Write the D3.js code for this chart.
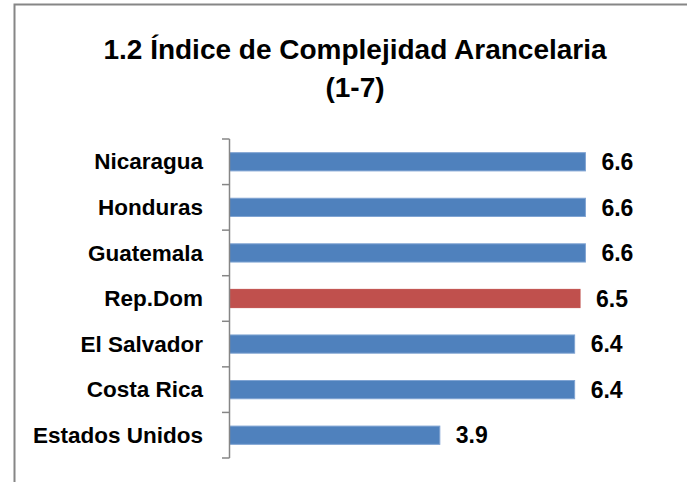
<!DOCTYPE html>
<html><head><meta charset="utf-8">
<script src="https://cdn.jsdelivr.net/npm/d3@7"></script>
<style>body{margin:0;background:#fff}svg{display:block}</style>
</head><body>
<script>
const categories = ["Nicaragua","Honduras","Guatemala","Rep.Dom","El Salvador","Costa Rica","Estados Unidos"];
const values = [6.6, 6.6, 6.6, 6.5, 6.4, 6.4, 3.9];
const highlight = ["Rep.Dom"];
const titleLines = ["1.2 Índice de Complejidad Arancelaria", "(1-7)"];

const W = 687, H = 482;
const svg = d3.select("body").append("svg").attr("width", W).attr("height", H);
const font = "'Liberation Sans', Arial, sans-serif";

// frame
svg.append("path").attr("d", "M14.5,482 V4.5 H687").attr("fill","none").attr("stroke","#868686").attr("stroke-width",2);

// title
svg.append("text").attr("x", 355).attr("y", 59).attr("text-anchor","middle")
  .attr("font-family", font).attr("font-weight","bold").attr("font-size", 28).attr("fill","#000")
  .text(titleLines[0]);
svg.append("text").attr("x", 355).attr("y", 97).attr("text-anchor","middle")
  .attr("font-family", font).attr("font-weight","bold").attr("font-size", 28).attr("fill","#000")
  .text(titleLines[1]);

const x = d3.scaleLinear().domain([0, 7]).range([229.5, 607]);
const y = d3.scaleBand().domain(categories).range([139, 458]).paddingInner(0.6).paddingOuter(0.3);

// bars
svg.selectAll("rect.bar").data(categories).join("rect").attr("class","bar")
  .attr("x", x(0)).attr("y", d => y(d))
  .attr("width", (d,i) => x(values[i]) - x(0))
  .attr("height", y.bandwidth())
  .attr("fill", d => highlight.includes(d) ? "#C0504D" : "#4F81BD")
  .attr("stroke", d => highlight.includes(d) ? "#C0504D" : "#7FA3D2").attr("stroke-width", 1);

// axis line + ticks
const step = (458 - 139) / categories.length;
const ax = svg.append("g");
ax.append("line").attr("x1", 229.5).attr("x2", 229.5).attr("y1", 139).attr("y2", 458)
  .attr("stroke","#868686").attr("stroke-width",1.5);
d3.range(categories.length + 1).forEach(i => {
  ax.append("line").attr("x1", 222).attr("x2", 229.5)
    .attr("y1", 139 + i*step).attr("y2", 139 + i*step)
    .attr("stroke","#868686").attr("stroke-width",1.5);
});

// category labels
svg.selectAll("text.cat").data(categories).join("text").attr("class","cat")
  .attr("x", 203).attr("y", d => y(d) + y.bandwidth()/2).attr("dy","0.34em")
  .attr("text-anchor","end").attr("font-family", font).attr("font-weight","bold")
  .attr("font-size", 22.5).attr("fill","#000").text(d => d);

// value labels
svg.selectAll("text.val").data(categories).join("text").attr("class","val")
  .attr("x", (d,i) => x(values[i]) + 16).attr("y", d => y(d) + y.bandwidth()/2).attr("dy","0.36em")
  .attr("font-family", font).attr("font-weight","bold")
  .attr("font-size", 23).attr("fill","#000").text((d,i) => d3.format(".1f")(values[i]));
</script>
</body></html>
